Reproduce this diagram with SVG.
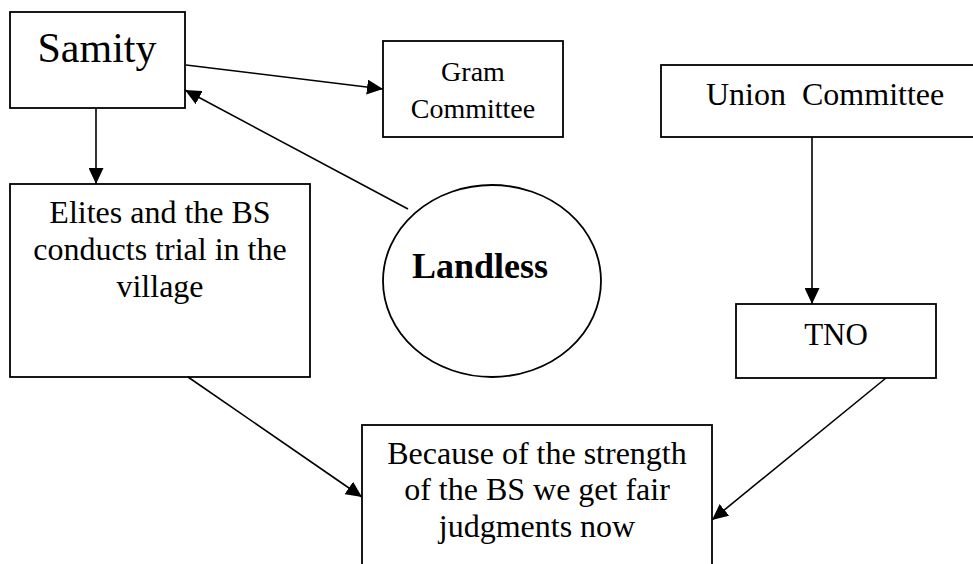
<svg xmlns="http://www.w3.org/2000/svg" width="973" height="564" viewBox="0 0 973 564">
<style>
.box{fill:#fff;stroke:#000;stroke-width:1.8}
.t{font-family:"Liberation Serif","Times New Roman",serif;fill:#000;text-anchor:middle}
.c{stroke:#000;stroke-width:1.6;fill:none;marker-end:url(#ah)}
</style>
<defs>
<marker id="ah" markerUnits="userSpaceOnUse" markerWidth="17" markerHeight="15" refX="16" refY="7.5" orient="auto">
<path d="M0,0 L16,7.5 L0,15 z" fill="#000"/>
</marker>
</defs>
<rect width="973" height="564" fill="#fff"/>
<g id="samity">
<rect class="box" x="10" y="12" width="175" height="96"/>
<text class="t" x="97" y="62" font-size="42">Samity</text>
</g>
<g id="gram">
<rect class="box" x="383" y="41" width="180" height="96"/>
<text class="t" x="473" y="81" font-size="28">Gram</text>
<text class="t" x="473" y="118" font-size="28">Committee</text>
</g>
<g id="union">
<rect class="box" x="661" y="65" width="320" height="72"/>
<text class="t" x="706" y="105" font-size="32" style="text-anchor:start;white-space:pre" xml:space="preserve">Union  Committee</text>
</g>
<g id="elites">
<rect class="box" x="10" y="184" width="300" height="193"/>
<text class="t" x="160" y="223" font-size="32">Elites and the BS</text>
<text class="t" x="160" y="260" font-size="32">conducts trial in the</text>
<text class="t" x="160" y="297" font-size="32">village</text>
</g>
<g id="landless">
<ellipse cx="492" cy="281" rx="109" ry="96" fill="#fff" stroke="#000" stroke-width="1.8"/>
<text class="t" x="480" y="278" font-size="36" font-weight="bold">Landless</text>
</g>
<g id="tno">
<rect class="box" x="736" y="304" width="200" height="74"/>
<text class="t" x="836" y="345" font-size="31">TNO</text>
</g>
<g id="judgments">
<rect class="box" x="362" y="425" width="350" height="160"/>
<text class="t" x="537" y="464" font-size="32">Because of the strength</text>
<text class="t" x="537" y="500" font-size="32">of the BS we get fair</text>
<text class="t" x="537" y="537" font-size="32">judgments now</text>
</g>
<g id="connectors">
<line class="c" x1="186" y1="65" x2="383" y2="89"/>
<line class="c" x1="96" y1="108" x2="96" y2="184"/>
<line class="c" x1="408" y1="209" x2="185" y2="90"/>
<line class="c" x1="812" y1="137" x2="812" y2="304"/>
<line class="c" x1="188" y1="377" x2="362" y2="497"/>
<line class="c" x1="886" y1="378" x2="712" y2="520"/>
</g>
</svg>
